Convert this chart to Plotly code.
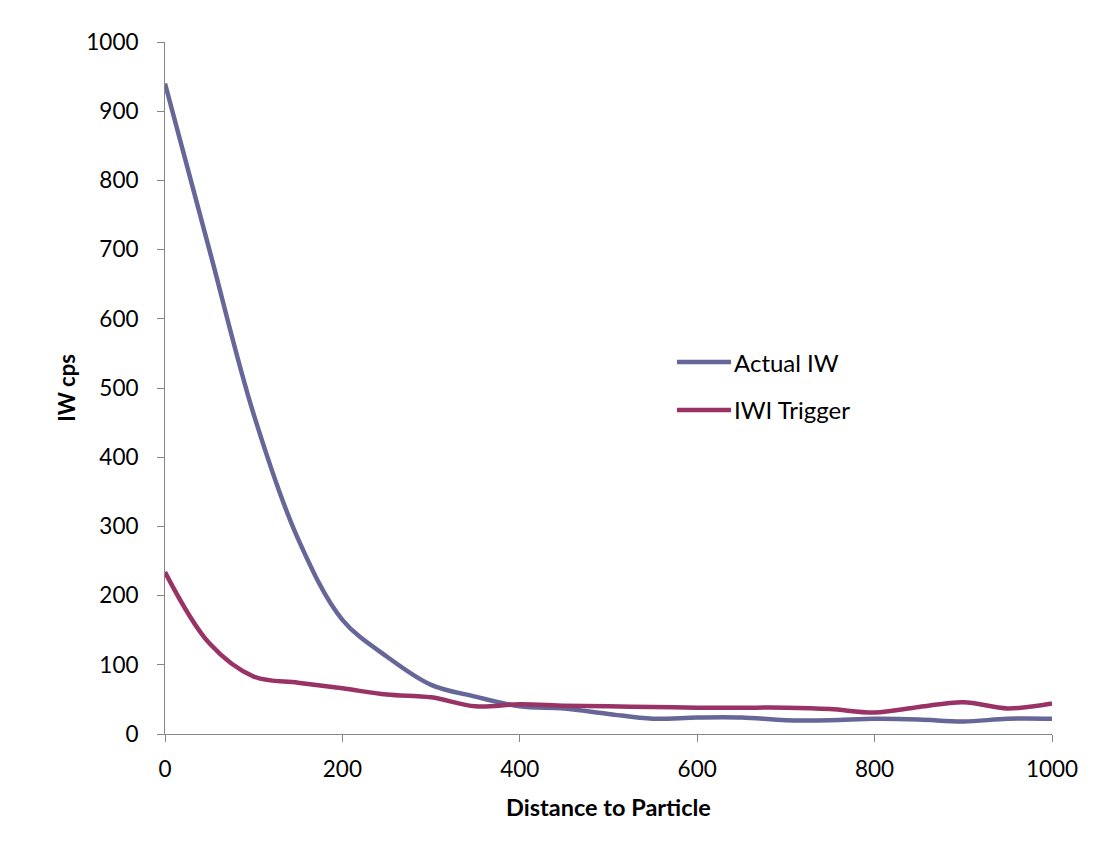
import plotly.graph_objects as go

distance = [0, 50, 100, 150, 200, 250, 300, 350, 400, 450, 500, 550, 600, 650, 700, 750, 800, 850, 900, 950, 1000]
actual_iw = [940, 700, 462, 282, 165, 112, 71, 54, 40, 37, 29, 22, 24, 24, 20, 20, 22, 21, 18, 22, 22]
iwi_trigger = [234, 131, 83, 74, 66, 57, 53, 40, 43, 41, 40, 39, 38, 38, 38, 36, 31, 39, 46, 37, 44]

series_names = ["Actual IW", "IWI Trigger"]
colors = ["#666699", "#993366"]

FONT = "Lato"
OFF = 8  # default page body margin
W, H = 1103 - OFF, 849 - OFF
# plot area in screen pixels: x 165..1052, y 42..734
L, T = 165 - OFF, 42 - OFF
R = W - (1052 - OFF)
B = H - (734 - OFF)

fig = go.Figure()
for name, ys, c in zip(series_names, [actual_iw, iwi_trigger], colors):
    fig.add_trace(go.Scatter(x=distance, y=ys, mode="lines", name=name,
                             line=dict(color=c, width=4.5, shape="spline", smoothing=1.0),
                             showlegend=False))

pw = W - L - R
ph = H - T - B
def px2paper_x(px):
    return (px - OFF - L) / pw
def px2paper_y(py):
    return (H - B - (py - OFF)) / ph

shapes = []
annotations = []
leg_y = [362, 410]
for name, c, yy in zip(series_names, colors, leg_y):
    shapes.append(dict(type="line", xref="paper", yref="paper",
                       x0=px2paper_x(677), x1=px2paper_x(731),
                       y0=px2paper_y(yy), y1=px2paper_y(yy),
                       line=dict(color=c, width=4.5)))
    annotations.append(dict(x=px2paper_x(732), y=px2paper_y(yy), xref="paper", yref="paper",
                            text=name, showarrow=False, xanchor="left", yanchor="middle",
                            font=dict(family=FONT, size=24, color="#000000")))

fig.update_layout(
    width=W, height=H,
    margin=dict(l=L, r=R, t=T, b=B),
    plot_bgcolor="white", paper_bgcolor="white",
    font=dict(family=FONT, size=22.5, color="#000000"),
    shapes=shapes, annotations=annotations,
    xaxis=dict(range=[0, 1000], tickvals=[0, 200, 400, 600, 800, 1000],
               showgrid=False, zeroline=False, showline=True, linecolor="#868686", linewidth=1,
               ticks="outside", ticklen=7, tickcolor="#868686", ticklabelstandoff=8,
               tickfont=dict(family=FONT, size=22.5),
               title=dict(text="<b>Distance to Particle</b>", font=dict(family=FONT, size=23.5), standoff=18)),
    yaxis=dict(range=[0, 1000], tickvals=list(range(0, 1001, 100)),
               showgrid=False, zeroline=False, showline=True, linecolor="#868686", linewidth=1,
               ticks="outside", ticklen=7, tickcolor="#868686", ticklabelstandoff=14,
               tickfont=dict(family=FONT, size=22.5),
               title=dict(text="<b>IW cps</b>", font=dict(family=FONT, size=22), standoff=4)),
)

fig.write_html("out.html")
